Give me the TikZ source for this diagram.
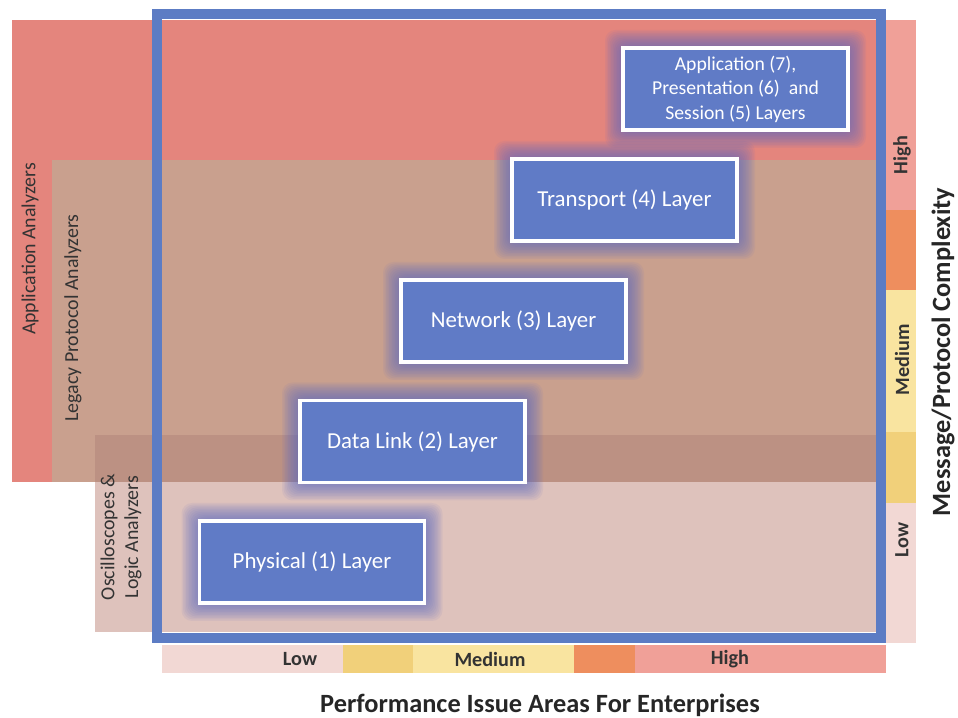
\documentclass[tikz,border=0pt]{standalone}
\usepackage{fontspec}
\setmainfont{Carlito}
\usepackage{tikz}

\definecolor{appred}{RGB}{228,133,125}
\definecolor{legacytan}{RGB}{201,160,142}
\definecolor{scopepink}{RGB}{222,194,188}
\definecolor{overlapband}{RGB}{188,145,131}
\definecolor{frameblue}{RGB}{92,124,196}
\definecolor{layerblue}{RGB}{96,123,198}
\definecolor{glowblue}{RGB}{88,104,196}
\definecolor{lvlhigh}{RGB}{240,160,152}
\definecolor{lvlorange}{RGB}{238,142,94}
\definecolor{lvlmed}{RGB}{249,228,160}
\definecolor{lvlgold}{RGB}{241,208,122}
\definecolor{lvllow}{RGB}{242,216,212}

\begin{document}
\begin{tikzpicture}[every node/.style={font=\fontsize{11.3}{13.5}\selectfont, text=black!80},
  layer/.style={draw=white, line width=1.8pt, fill=layerblue, text=white, minimum width=4.5cm, minimum height=1.64cm, align=center},
  scalelabel/.style={font=\bfseries\fontsize{11.5}{13}\selectfont},
  axistitle/.style={font=\bfseries\fontsize{15}{18}\selectfont, text=black!85}]

\useasboundingbox (0,0) rectangle (19.16,14.34);

% Draw analyzer bands
\fill[appred] (0.24,4.7) rectangle (17.62,13.94);      % application analyzers
\fill[legacytan] (1.04,4.7) rectangle (17.62,11.14);   % legacy protocol analyzers
\fill[scopepink] (1.9,1.7) rectangle (17.62,5.64);     % oscilloscopes
\fill[overlapband] (1.9,4.7) rectangle (17.62,5.64);   % where legacy and scopes meet

% Draw blue frame
\draw[frameblue, line width=0.2cm] (3.14,1.58) rectangle (17.62,14.06);

% Draw scale bars (right and bottom)
\foreach \ya/\yb/\col in {10.14/13.94/lvlhigh, 8.54/10.14/lvlorange, 5.70/8.54/lvlmed, 4.28/5.70/lvlgold, 1.48/4.28/lvllow}
    \fill[\col] (17.72,\ya) rectangle (18.32,\yb);
\foreach \xa/\xb/\col in {3.24/6.86/lvllow, 6.86/8.26/lvlgold, 8.26/11.48/lvlmed, 11.48/12.70/lvlorange, 12.70/17.72/lvlhigh}
    \fill[\col] (\xa,0.88) rectangle (\xb,1.44);

% Draw layer boxes with a soft glow
\foreach \x/\y/\name/\fs/\ls/\txt in {6.24/3.1/phys/13/15/{Physical (1) Layer}, 8.25/5.51/dlink/13/15/{Data Link (2) Layer}, 10.27/7.92/net/13/15/{Network (3) Layer}, 12.49/10.34/trans/13/15/{Transport (4) Layer}, 14.71/12.56/app/11.2/14/{Application (7),\\Presentation (6)~ and\\Session (5) Layers}} {
    \foreach \g in {1,...,12}
        \fill[glowblue, opacity=0.08, rounded corners=6pt] (\x-2.25-\g*0.03,\y-0.82-\g*0.03) rectangle (\x+2.25+\g*0.03,\y+0.82+\g*0.03);
    \node[layer, font=\fontsize{\fs}{\ls}\selectfont] (\name) at (\x,\y) {\txt};
}

% Scale labels
\node[scalelabel] (lowx) at (6.0,1.16) {Low};
\node[scalelabel] (medx) at (9.8,1.16) {Medium};
\node[scalelabel] (highx) at (14.6,1.16) {High};
\node[scalelabel, rotate=90] (highy) at (18.04,11.24) {High};
\node[scalelabel, rotate=90] (medy) at (18.04,7.14) {Medium};
\node[scalelabel, rotate=90] (lowy) at (18.04,3.54) {Low};

% Axis titles
\node[axistitle] (xtitle) at (10.8,0.24) {Performance Issue Areas For Enterprises};
\node[axistitle, rotate=90] (ytitle) at (18.86,7.3) {Message/Protocol Complexity};

% Analyzer names
\node[rotate=90] (appan) at (0.6,9.36) {Application Analyzers};
\node[rotate=90] (legan) at (1.46,7.98) {Legacy Protocol Analyzers};
\node[rotate=90, align=center] (oscan) at (2.42,3.6) {Oscilloscopes \&\\Logic Analyzers};

\end{tikzpicture}
\end{document}
